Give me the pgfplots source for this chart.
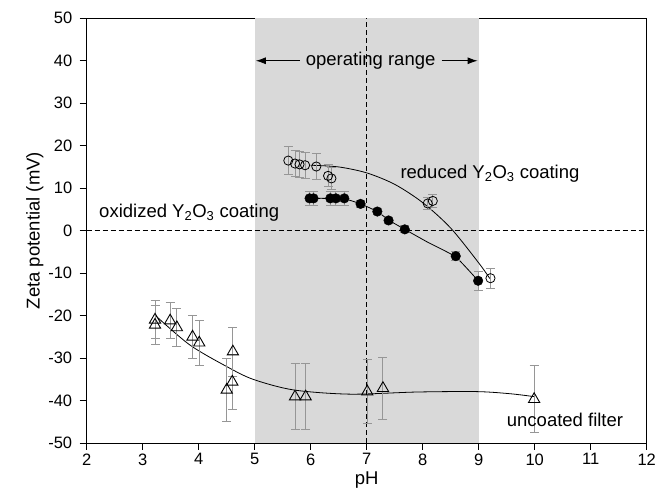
\documentclass[border=0pt]{standalone}
\usepackage{pgfplots}
\pgfplotsset{compat=1.18}
\usepackage{fontspec}
\setmainfont{Liberation Sans}
\usetikzlibrary{arrows.meta}
\definecolor{shade}{RGB}{217,217,217}
\definecolor{ebar}{RGB}{150,150,150}
\begin{document}
\begin{tikzpicture}
\begin{axis}[
  name=ax,
  scale only axis,
  width=560bp, height=424.7bp,
  xmin=2, xmax=12, ymin=-50, ymax=50,
  xtick={2,3,...,12}, ytick={-50,-40,...,50},
  xtick pos=bottom, ytick pos=left,
  tick align=outside,
  major tick length=7bp,
  tick style={black, line width=0.9bp},
  axis line style={black, line width=0.9bp},
  /pgf/number format/assume math mode=true,
  ticklabel style={font=\fontsize{16.5bp}{19bp}\selectfont},
  yticklabel style={xshift=-4bp},
  label style={font=\fontsize{18.5bp}{22bp}\selectfont},
  xlabel={pH},
  ylabel={Zeta potential (mV)},
  ylabel style={xshift=0bp, yshift=-2bp},
  clip=false,
]
% operating range shading
\addplot[draw=none, fill=shade, forget plot] coordinates {(5,-50) (9,-50) (9,50) (5,50)} -- cycle;
% reference lines
\addplot[black, line width=0.9bp, dash pattern=on 5bp off 3bp, forget plot] coordinates {(2,0) (12,0)};
\addplot[black, line width=0.9bp, dash pattern=on 5bp off 3bp, forget plot] coordinates {(7,-50) (7,50)};
% fitted curves
\addplot[black, line width=0.8bp, smooth, forget plot] coordinates {
 (6.0,15.4) (6.5,15.0) (7.0,13.6) (7.5,10.9) (8.0,6.6) (8.5,0.6) (9.0,-7.6) (9.2,-11.3)};
\addplot[black, line width=0.8bp, smooth, tension=0.3, forget plot] coordinates {
 (5.98,7.6) (6.3,7.6) (6.6,7.5) (6.89,6.3) (7.19,4.5) (7.39,2.5) (7.68,0.3) (8.1,-2.8) (8.59,-6.2) (8.99,-11.8)};
\addplot[black, line width=0.8bp, smooth, forget plot] coordinates {
 (3.22,-19.9) (3.84,-26.9) (4.5,-32.0) (4.97,-35.0) (5.69,-37.5) (6.7,-38.5) (7.89,-38.0) (8.96,-37.9) (9.56,-38.4) (10.0,-39.1)};
% reduced Y2O3 coating (open circles)
\addplot[only marks, mark=o, mark size=4.6bp, mark options={black, line width=0.8bp},
  error bars/.cd, y dir=both, y explicit,
  error bar style={ebar, line width=1bp},
  error mark options={rotate=90, ebar, mark size=4.5bp, line width=1bp}]
 coordinates {
 (5.6,16.5) +- (0,3.3)
 (5.72,15.8) +- (0,3.1)
 (5.8,15.6) +- (0,3.1)
 (5.9,15.4) +- (0,3.1)
 (6.1,15.1) +- (0,3.1)
 (6.31,12.9) +- (0,2.6)
 (6.37,12.3) +- (0,2.6)
 (8.09,6.4) +- (0,1.5)
 (8.18,7.0) +- (0,1.5)
 (9.21,-11.2) +- (0,2.4)
 };
% oxidized Y2O3 coating (filled circles)
\addplot[only marks, mark=*, mark size=4.8bp, mark options={black, fill=black},
  error bars/.cd, y dir=both, y explicit,
  error bar style={ebar, line width=1bp},
  error mark options={rotate=90, ebar, mark size=4.5bp, line width=1bp}]
 coordinates {
 (5.98,7.6) +- (0,1.6)
 (6.05,7.6) +- (0,1.6)
 (6.35,7.6) +- (0,1.6)
 (6.45,7.6) +- (0,1.6)
 (6.6,7.6) +- (0,1.6)
 (6.89,6.3) +- (0,0.8)
 (7.19,4.5) +- (0,0.8)
 (7.39,2.4) +- (0,0.8)
 (7.68,0.3) +- (0,0.8)
 (8.59,-6.0) +- (0,1.0)
 (8.99,-11.8) +- (0,2.2)
 };
% uncoated filter (open triangles)
\addplot[only marks, mark=triangle, mark size=6.5bp, mark options={black, line width=0.9bp},
  error bars/.cd, y dir=both, y explicit,
  error bar style={ebar, line width=1bp},
  error mark options={rotate=90, ebar, mark size=4.5bp, line width=1bp}]
 coordinates {
 (3.22,-21.0) +- (0,4.5)
 (3.22,-22.2) +- (0,4.5)
 (3.49,-21.2) +- (0,4.2)
 (3.61,-22.8) +- (0,4.5)
 (3.89,-25.0) +- (0,5.0)
 (4.01,-26.4) +- (0,5.3)
 (4.61,-28.5) +- (0,5.8)
 (4.5,-37.5) +- (0,7.5)
 (4.6,-35.6) +- (0,6.5)
 (5.72,-39.1) +- (0,7.8)
 (5.91,-39.1) +- (0,7.8)
 (7.01,-37.9) +- (0,7.5)
 (7.29,-37.1) +- (0,7.3)
 (9.99,-39.7) +- (0,7.9)
 };
% annotations
\node[font=\fontsize{18.5bp}{22bp}\selectfont] at (axis cs:7.07,40) {operating range};
\draw[black, line width=0.9bp, -{Latex[length=10bp,width=7bp]}] (axis cs:5.8,40) -- (axis cs:5.02,40);
\draw[black, line width=0.9bp, -{Latex[length=10bp,width=7bp]}] (axis cs:8.34,40) -- (axis cs:8.98,40);
\node[anchor=west, font=\fontsize{18.5bp}{22bp}\selectfont, inner sep=0pt] at (axis cs:7.6,13.4) {reduced Y\textsubscript{2}O\textsubscript{3} coating};
\node[anchor=west, font=\fontsize{18.5bp}{22bp}\selectfont, inner sep=0pt] at (axis cs:2.22,4.3) {oxidized Y\textsubscript{2}O\textsubscript{3} coating};
\node[anchor=west, font=\fontsize{18.5bp}{22bp}\selectfont, inner sep=0pt] at (axis cs:9.5,-44.6) {uncoated filter};
\end{axis}
\pgfresetboundingbox
\path ([shift={(-86.7bp,-60bp)}]ax.south west) rectangle ([shift={(11.3bp,18.3bp)}]ax.north east);
\end{tikzpicture}
\end{document}
